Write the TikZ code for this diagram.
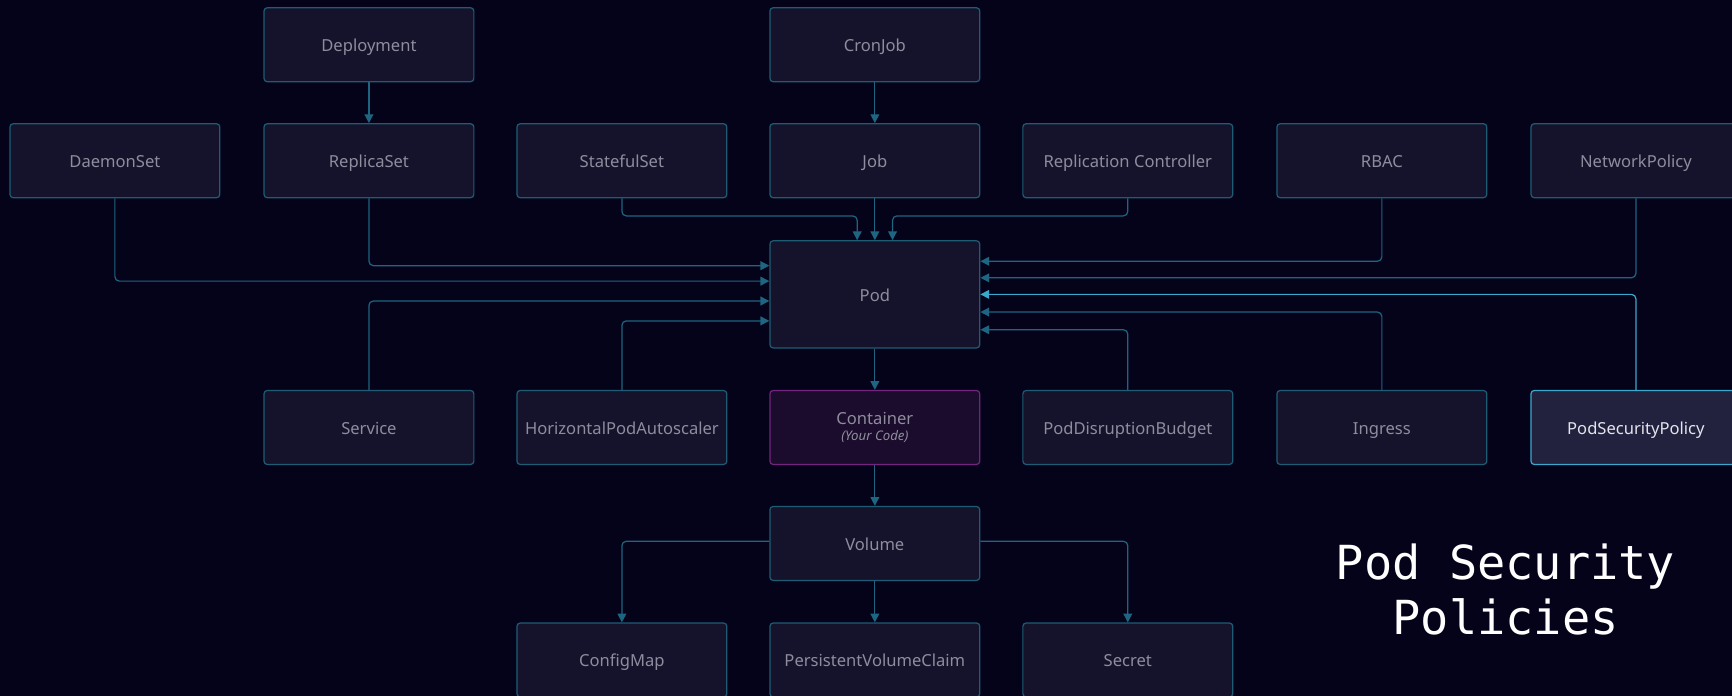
\documentclass[tikz,border=0pt]{standalone}
\usepackage{fontspec}
\setmainfont{Noto Sans}
\newfontfamily\titlefont{DejaVu Sans Mono}
\usetikzlibrary{arrows.meta}

\definecolor{bgcol}{HTML}{05031A}
\definecolor{boxfill}{HTML}{14132B}
\definecolor{boxline}{HTML}{1E5C74}
\definecolor{linkcol}{HTML}{1D6580}
\definecolor{labelcol}{HTML}{8E8D9E}
\definecolor{codefill}{HTML}{1B0B2C}
\definecolor{codeline}{HTML}{74247E}
\definecolor{pspfill}{HTML}{23223E}
\definecolor{pspline}{HTML}{3AA8CC}
\definecolor{psptext}{HTML}{E4E4EC}

\tikzset{
  kbox/.style={draw=boxline, fill=boxfill, line width=1.1pt, rounded corners=3pt,
    minimum width=190pt, minimum height=67pt, text=labelcol,
    text height=15.5pt, text depth=3pt,
    font=\fontsize{15}{17}\selectfont},
  podbox/.style={kbox, minimum height=97pt},
  codebox/.style={kbox, draw=codeline, fill=codefill, align=center,
    text height=, text depth=},
  pspbox/.style={kbox, draw=pspline, fill=pspfill, text=psptext},
  link/.style={draw=linkcol, line width=1.1pt, rounded corners=4pt,
    -{Triangle[width=8pt,length=8pt]}},
  psplink/.style={link, draw=pspline}
}

\begin{document}
\begin{tikzpicture}[x=1pt, y=-1pt]
  \useasboundingbox (0,0) rectangle (1568,630);
  \fill[bgcol] (0,0) rectangle (1568,630);
  \clip (0,0) rectangle (1568,630);

  % controllers
  \node[kbox] (deploy) at (334,40.5) {Deployment};
  \node[kbox] (cron) at (792,40.5) {CronJob};
  \node[kbox] (daemon) at (104,145.5) {DaemonSet};
  \node[kbox] (replica) at (334,145.5) {ReplicaSet};
  \node[kbox] (stateful) at (563,145.5) {StatefulSet};
  \node[kbox] (job) at (792,145.5) {Job};
  \node[kbox] (rc) at (1021,145.5) {Replication Controller};
  \node[kbox] (rbac) at (1251,145.5) {RBAC};
  \node[kbox] (netpol) at (1481,145.5) {NetworkPolicy};

  % pod and around it
  \node[podbox] (pod) at (792,266.5) {Pod};
  \node[kbox] (service) at (334,387) {Service};
  \node[kbox] (hpa) at (563,387) {HorizontalPodAutoscaler};
  \node[codebox] (container) at (792,387)
    {Container\\[-3pt]{\fontsize{12}{14}\selectfont\itshape (Your Code)}};
  \node[kbox] (pdb) at (1021,387) {PodDisruptionBudget};
  \node[kbox] (ingress) at (1251,387) {Ingress};
  \node[pspbox] (psp) at (1481,387) {PodSecurityPolicy};

  % storage
  \node[kbox] (volume) at (792,492) {Volume};
  \node[kbox] (configmap) at (563,597.5) {ConfigMap};
  \node[kbox] (pvc) at (792,597.5) {PersistentVolumeClaim};
  \node[kbox] (secret) at (1021,597.5) {Secret};

  \node[text=white, align=center, font=\titlefont\fontsize{42.5}{50}\selectfont]
    (title) at (1363,534) {Pod Security\\Policies};

  \draw[link] (deploy) -- (replica);
  \draw[link] (cron) -- (job);
  \draw[link] (job) -- (pod);
  \draw[link] (stateful.south) |- ([xshift=-16pt,yshift=22pt]pod.north) -- ([xshift=-16pt]pod.north);
  \draw[link] (rc.south) |- ([xshift=16pt,yshift=22pt]pod.north) -- ([xshift=16pt]pod.north);
  \draw[link] (replica.south) |- ([yshift=26pt]pod.west);
  \draw[link] (daemon.south) |- ([yshift=12pt]pod.west);
  \draw[link] (service.north) |- ([yshift=-6pt]pod.west);
  \draw[link] (hpa.north) |- ([yshift=-24pt]pod.west);
  \draw[link] (rbac.south) |- ([yshift=30pt]pod.east);
  \draw[link] (netpol.south) |- ([yshift=15pt]pod.east);
  \draw[psplink] (psp.north) |- (pod.east);
  \draw[link] (ingress.north) |- ([yshift=-16pt]pod.east);
  \draw[link] (pdb.north) |- ([yshift=-32pt]pod.east);
  \draw[link] (pod) -- (container);
  \draw[link] (container) -- (volume);
  \draw[link] ([yshift=2pt]volume.west) -| (configmap.north);
  \draw[link] (volume) -- (pvc);
  \draw[link] ([yshift=2pt]volume.east) -| (secret.north);
\end{tikzpicture}
\end{document}
